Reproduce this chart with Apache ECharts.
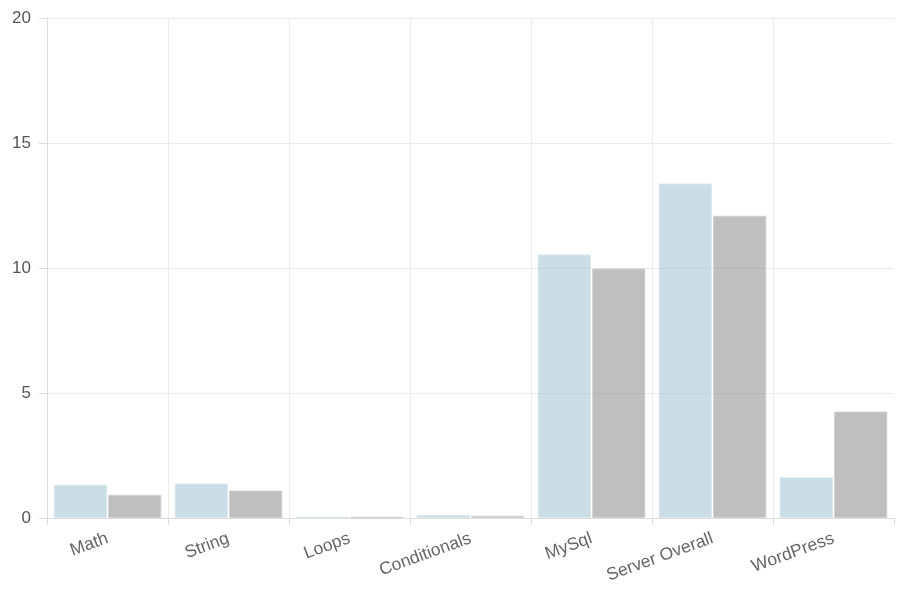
<!DOCTYPE html>
<html>
<head>
<meta charset="utf-8">
<script src="https://cdn.jsdelivr.net/npm/echarts@6/dist/echarts.min.js"></script>
<style>html,body{margin:0;padding:0;background:#fff}#c{width:900px;height:600px}</style>
</head>
<body>
<div id="c"></div>
<script>
var categories = ["Math", "String", "Loops", "Conditionals", "MySql", "Server Overall", "WordPress"];
var seriesA = [1.33, 1.38, 0.06, 0.12, 10.54, 13.38, 1.63];
var seriesB = [0.93, 1.1, 0.05, 0.09, 9.98, 12.09, 4.26];
var yTicks = [0, 5, 10, 15, 20];

var chart = echarts.init(document.getElementById('c'));
chart.setOption({
  animation: false,
  grid: { left: 47, right: 6, top: 18, bottom: 82 },
  xAxis: {
    type: 'category',
    data: categories,
    axisLine: { lineStyle: { color: '#dcdcdc' } },
    axisTick: { show: true, length: 7, lineStyle: { color: '#dcdcdc' } },
    splitLine: { show: true, showMaxLine: false, lineStyle: { color: '#ececec' } },
    axisLabel: { rotate: 20, color: '#666', fontSize: 17.5, fontFamily: 'Arial, Liberation Sans, sans-serif', margin: 20 }
  },
  yAxis: {
    type: 'value',
    min: yTicks[0], max: yTicks[yTicks.length - 1], interval: 5,
    axisLine: { show: true, lineStyle: { color: '#dcdcdc' } },
    axisTick: { show: true, length: 8, lineStyle: { color: '#dcdcdc' } },
    splitLine: { show: true, lineStyle: { color: '#ececec' } },
    axisLabel: { color: '#555', fontSize: 17, fontFamily: 'Arial, Liberation Sans, sans-serif', margin: 16 }
  },
  series: [
    {
      type: 'bar', data: seriesA, barGap: '2%', barCategoryGap: '11%',
      itemStyle: { color: 'rgba(151,187,205,0.5)', borderColor: 'rgba(220,232,238,0.9)', borderWidth: 1 }
    },
    {
      type: 'bar', data: seriesB,
      itemStyle: { color: 'rgba(128,128,128,0.5)', borderColor: 'rgba(210,210,210,0.9)', borderWidth: 1 }
    }
  ]
});
</script>
</body>
</html>
